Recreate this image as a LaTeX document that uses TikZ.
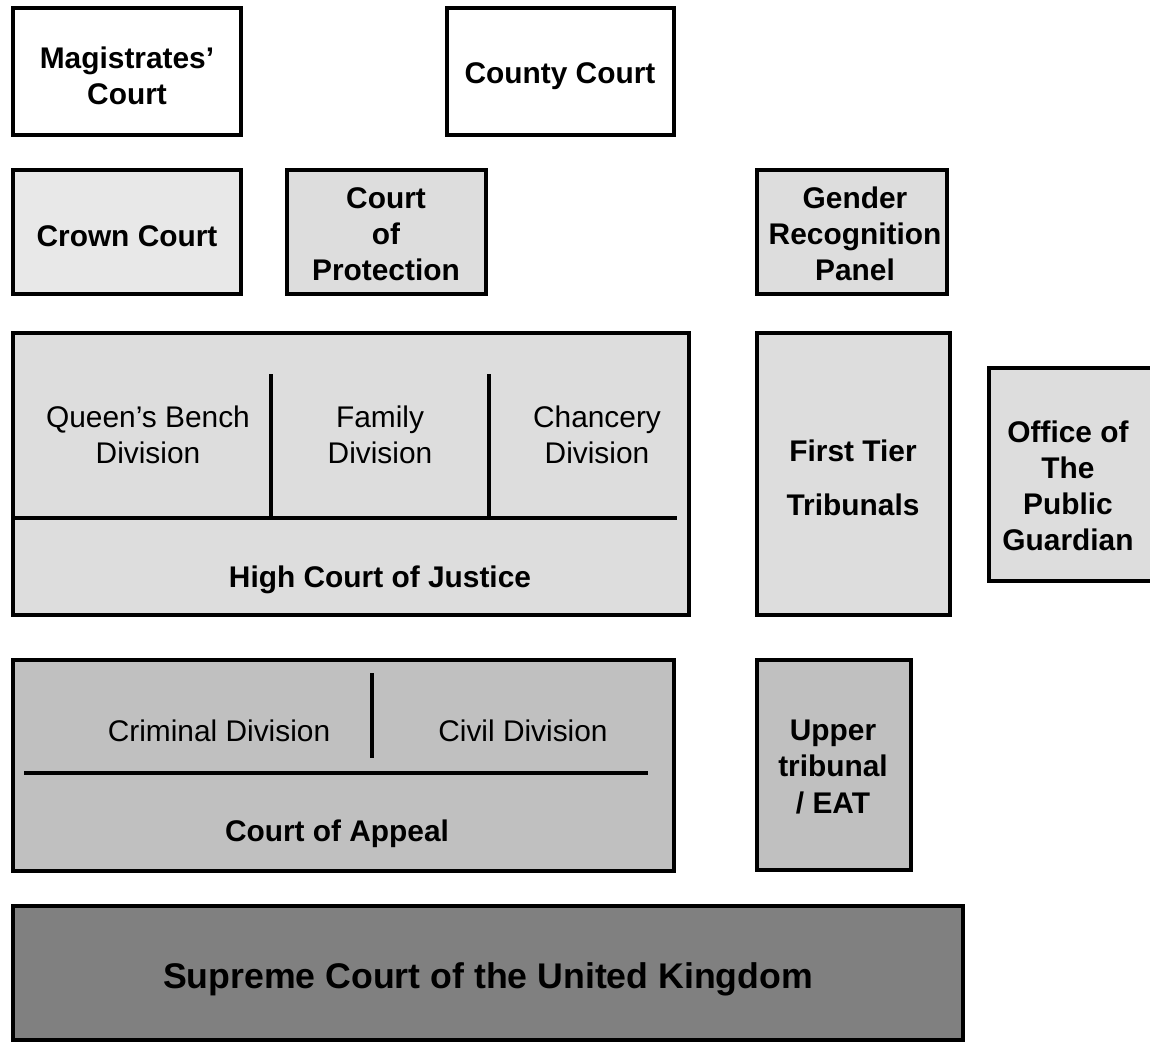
\documentclass[tikz,border=0pt]{standalone}
\usepackage{fontspec}
\setmainfont{Liberation Sans}
\usetikzlibrary{fit}
\definecolor{paleGray}{HTML}{E8E8E8}
\definecolor{lightGray}{HTML}{DDDDDD}
\definecolor{midGray}{HTML}{C0C0C0}
\definecolor{darkGray}{HTML}{808080}
\begin{document}
\begin{tikzpicture}[x=0.02cm,y=-0.02cm]
% box outlines at pixel positions, y grows downwards
\ifx\courtlw\undefined\newdimen\courtlw\fi
\global\def\courtfont{\fontsize{17}{20.5}\selectfont}
\global\def\courtline{\draw[line width=\courtlw]}
\courtlw=2.8bp
\tikzset{court/.style={draw, line width=\courtlw, inner sep=0pt},
  courtname/.style={align=center, font=\bfseries\courtfont},
  division/.style={align=center, font=\courtfont}}
\useasboundingbox (0,0) rectangle (1150,1048);
\node[court, fill=white, fit={(13,8) (241,135)}] (magistrates) {};
\node[court, fill=white, fit={(447,8) (674,135)}] (county) {};
\node[court, fill=paleGray, fit={(13,170) (241,294)}] (crown) {};
\node[court, fill=lightGray, fit={(287,170) (486,294)}] (protection) {};
\node[court, fill=lightGray, fit={(757,170) (947,294)}] (gender) {};
\node[court, fill=lightGray, fit={(13,333) (689,615)}] (highcourt) {};
\node[court, fill=lightGray, fit={(757,333) (950,615)}] (firsttier) {};
\node[court, fill=lightGray, fit={(989,368) (1160,581)}] (guardian) {};
\node[court, fill=midGray, fit={(13,660) (674,871)}] (appeal) {};
\node[court, fill=midGray, fit={(757,660) (911,870)}] (upper) {};
\node[court, fill=darkGray, fit={(13,906) (963,1040)}] (supreme) {};
% names of the courts
\node[courtname] (magistratesname) at (127,76) {Magistrates’\\Court};
\node[courtname] (countyname) at (560,76) {County Court};
\node[courtname] (crownname) at (127,236) {Crown Court};
\node[courtname] (protectionname) at (386,234) {Court\\of\\Protection};
\node[courtname] (gendername) at (855,234) {Gender\\Recognition\\Panel};
\node[courtname] (firsttiername) at (853,478) {First Tier\\[10pt]Tribunals};
\node[courtname] (guardianname) at (1068,486) {Office of\\The\\Public\\Guardian};
\node[courtname] (uppername) at (833,767) {Upper\\tribunal\\/ EAT};
% High Court divisions
\courtline (13,518) -- (677,518);
\courtline (271,374) -- (271,518);
\courtline (489,374) -- (489,518);
\node[division] (queensbench) at (148,435) {Queen’s Bench\\Division};
\node[division] (family) at (380,435) {Family\\Division};
\node[division] (chancery) at (597,435) {Chancery\\Division};
\node[courtname] (highcourtname) at (380,580) {High Court of Justice};
% Court of Appeal divisions
\courtline (24,773) -- (648,773);
\courtline (372,673) -- (372,758);
\node[division] (criminal) at (219,731) {Criminal Division};
\node[division] (civil) at (523,731) {Civil Division};
\node[courtname] (appealname) at (337,834) {Court of Appeal};
\node[courtname, font=\bfseries\fontsize{20.3}{24}\selectfont] (supremename) at (488,979) {Supreme Court of the United Kingdom};
\end{tikzpicture}
\end{document}
